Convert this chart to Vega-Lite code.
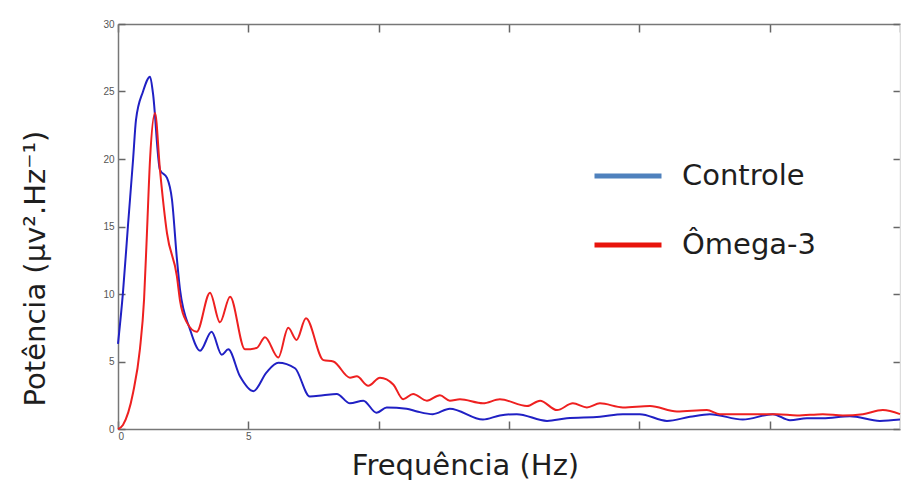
{
  "$schema": "https://vega.github.io/schema/vega-lite/v6.json",
  "width": 782,
  "height": 405,
  "autosize": {"type": "none"},
  "padding": {"left": 118, "top": 24, "right": 1, "bottom": 51},
  "background": "white",
  "config": {
    "view": {"stroke": null},
    "axis": {
      "domainColor": "#777777",
      "domainWidth": 1.5,
      "tickColor": "#666666",
      "tickWidth": 1.5,
      "grid": false,
      "labelFont": "Liberation Sans Narrow, Liberation Sans",
      "labelFontSize": 10,
      "labelColor": "#555555",
      "titleFont": "DejaVu Sans",
      "titleFontSize": 29,
      "titleFontWeight": "normal",
      "titleColor": "#1e1e1e"
    }
  },
  "data": {
    "values": [
      {"f": 0, "p": 6.3, "s": "Controle"},
      {"f": 0.19, "p": 10.1, "s": "Controle"},
      {"f": 0.38, "p": 15.0, "s": "Controle"},
      {"f": 0.58, "p": 20.0, "s": "Controle"},
      {"f": 0.69, "p": 22.9, "s": "Controle"},
      {"f": 0.96, "p": 25.0, "s": "Controle"},
      {"f": 1.23, "p": 26.1, "s": "Controle"},
      {"f": 1.34, "p": 24.9, "s": "Controle"},
      {"f": 1.61, "p": 19.2, "s": "Controle"},
      {"f": 1.88, "p": 18.6, "s": "Controle"},
      {"f": 2.07, "p": 17.0, "s": "Controle"},
      {"f": 2.26, "p": 12.6, "s": "Controle"},
      {"f": 2.38, "p": 10.3, "s": "Controle"},
      {"f": 2.76, "p": 7.4, "s": "Controle"},
      {"f": 3.15, "p": 5.8, "s": "Controle"},
      {"f": 3.59, "p": 7.2, "s": "Controle"},
      {"f": 3.98, "p": 5.5, "s": "Controle"},
      {"f": 4.23, "p": 5.9, "s": "Controle"},
      {"f": 4.68, "p": 3.9, "s": "Controle"},
      {"f": 5.19, "p": 2.8, "s": "Controle"},
      {"f": 5.7, "p": 4.2, "s": "Controle"},
      {"f": 6.15, "p": 4.9, "s": "Controle"},
      {"f": 6.79, "p": 4.5, "s": "Controle"},
      {"f": 7.36, "p": 2.4, "s": "Controle"},
      {"f": 7.87, "p": 2.5, "s": "Controle"},
      {"f": 8.39, "p": 2.6, "s": "Controle"},
      {"f": 8.9, "p": 1.9, "s": "Controle"},
      {"f": 9.41, "p": 2.1, "s": "Controle"},
      {"f": 9.92, "p": 1.2, "s": "Controle"},
      {"f": 10.31, "p": 1.6, "s": "Controle"},
      {"f": 11.07, "p": 1.5, "s": "Controle"},
      {"f": 11.47, "p": 1.3, "s": "Controle"},
      {"f": 12.08, "p": 1.1, "s": "Controle"},
      {"f": 12.73, "p": 1.5, "s": "Controle"},
      {"f": 14.0, "p": 0.7, "s": "Controle"},
      {"f": 14.65, "p": 1.0, "s": "Controle"},
      {"f": 15.3, "p": 1.1, "s": "Controle"},
      {"f": 16.46, "p": 0.6, "s": "Controle"},
      {"f": 17.22, "p": 0.8, "s": "Controle"},
      {"f": 18.49, "p": 0.9, "s": "Controle"},
      {"f": 19.37, "p": 1.1, "s": "Controle"},
      {"f": 20.02, "p": 1.1, "s": "Controle"},
      {"f": 21.06, "p": 0.6, "s": "Controle"},
      {"f": 21.94, "p": 0.9, "s": "Controle"},
      {"f": 22.71, "p": 1.1, "s": "Controle"},
      {"f": 23.97, "p": 0.7, "s": "Controle"},
      {"f": 25.12, "p": 1.1, "s": "Controle"},
      {"f": 25.78, "p": 0.65, "s": "Controle"},
      {"f": 26.43, "p": 0.8, "s": "Controle"},
      {"f": 27.04, "p": 0.8, "s": "Controle"},
      {"f": 28.08, "p": 0.95, "s": "Controle"},
      {"f": 29.23, "p": 0.6, "s": "Controle"},
      {"f": 30.0, "p": 0.7, "s": "Controle"},
      {"f": 0, "p": 0, "s": "Ômega-3"},
      {"f": 0.19, "p": 0.3, "s": "Ômega-3"},
      {"f": 0.58, "p": 2.7, "s": "Ômega-3"},
      {"f": 0.84, "p": 5.9, "s": "Ômega-3"},
      {"f": 1.0, "p": 9.6, "s": "Ômega-3"},
      {"f": 1.11, "p": 14.5, "s": "Ômega-3"},
      {"f": 1.23, "p": 20.0, "s": "Ômega-3"},
      {"f": 1.42, "p": 23.4, "s": "Ômega-3"},
      {"f": 1.61, "p": 19.2, "s": "Ômega-3"},
      {"f": 1.88, "p": 14.5, "s": "Ômega-3"},
      {"f": 2.26, "p": 11.3, "s": "Ômega-3"},
      {"f": 2.38, "p": 9.5, "s": "Ômega-3"},
      {"f": 2.64, "p": 7.9, "s": "Ômega-3"},
      {"f": 3.02, "p": 7.2, "s": "Ômega-3"},
      {"f": 3.53, "p": 10.1, "s": "Ômega-3"},
      {"f": 3.91, "p": 7.9, "s": "Ômega-3"},
      {"f": 4.3, "p": 9.8, "s": "Ômega-3"},
      {"f": 4.87, "p": 5.9, "s": "Ômega-3"},
      {"f": 5.32, "p": 6.0, "s": "Ômega-3"},
      {"f": 5.64, "p": 6.8, "s": "Ômega-3"},
      {"f": 6.15, "p": 5.3, "s": "Ômega-3"},
      {"f": 6.53, "p": 7.5, "s": "Ômega-3"},
      {"f": 6.85, "p": 6.6, "s": "Ômega-3"},
      {"f": 7.21, "p": 8.2, "s": "Ômega-3"},
      {"f": 7.88, "p": 5.1, "s": "Ômega-3"},
      {"f": 8.26, "p": 5.0, "s": "Ômega-3"},
      {"f": 8.9, "p": 3.8, "s": "Ômega-3"},
      {"f": 9.16, "p": 3.9, "s": "Ômega-3"},
      {"f": 9.6, "p": 3.2, "s": "Ômega-3"},
      {"f": 10.05, "p": 3.8, "s": "Ômega-3"},
      {"f": 10.56, "p": 3.3, "s": "Ômega-3"},
      {"f": 10.94, "p": 2.2, "s": "Ômega-3"},
      {"f": 11.32, "p": 2.6, "s": "Ômega-3"},
      {"f": 11.85, "p": 2.1, "s": "Ômega-3"},
      {"f": 12.35, "p": 2.5, "s": "Ômega-3"},
      {"f": 12.73, "p": 2.1, "s": "Ômega-3"},
      {"f": 13.12, "p": 2.2, "s": "Ômega-3"},
      {"f": 14.0, "p": 1.9, "s": "Ômega-3"},
      {"f": 14.65, "p": 2.2, "s": "Ômega-3"},
      {"f": 15.69, "p": 1.7, "s": "Ômega-3"},
      {"f": 16.19, "p": 2.1, "s": "Ômega-3"},
      {"f": 16.84, "p": 1.4, "s": "Ômega-3"},
      {"f": 17.45, "p": 1.9, "s": "Ômega-3"},
      {"f": 17.99, "p": 1.6, "s": "Ômega-3"},
      {"f": 18.49, "p": 1.9, "s": "Ômega-3"},
      {"f": 19.37, "p": 1.6, "s": "Ômega-3"},
      {"f": 20.41, "p": 1.7, "s": "Ômega-3"},
      {"f": 21.44, "p": 1.3, "s": "Ômega-3"},
      {"f": 22.59, "p": 1.4, "s": "Ômega-3"},
      {"f": 23.09, "p": 1.1, "s": "Ômega-3"},
      {"f": 24.24, "p": 1.1, "s": "Ômega-3"},
      {"f": 25.28, "p": 1.1, "s": "Ômega-3"},
      {"f": 26.05, "p": 1.0, "s": "Ômega-3"},
      {"f": 27.04, "p": 1.1, "s": "Ômega-3"},
      {"f": 27.81, "p": 1.0, "s": "Ômega-3"},
      {"f": 28.58, "p": 1.1, "s": "Ômega-3"},
      {"f": 29.34, "p": 1.4, "s": "Ômega-3"},
      {"f": 30.0, "p": 1.1, "s": "Ômega-3"}
    ]
  },
  "layer": [
    {
      "mark": {"type": "line", "strokeWidth": 2, "interpolate": "monotone"},
      "encoding": {
        "x": {
          "field": "f", "type": "quantitative",
          "scale": {"domain": [0, 30], "nice": false},
          "axis": {
            "orient": "bottom",
            "values": [0, 5, 10, 15, 20, 25, 30],
            "labelExpr": "datum.value <= 5 ? datum.label : ''",
            "tickSize": -8,
            "labelPadding": 10,
            "title": "Frequência (Hz)",
            "titleX": 347,
            "titleY": 36,
            "titleAnchor": null,
            "titleAlign": "center",
            "titleBaseline": "middle"
          }
        },
        "y": {
          "field": "p", "type": "quantitative",
          "scale": {"domain": [0, 30], "nice": false},
          "axis": {
            "orient": "left",
            "values": [0, 5, 10, 15, 20, 25, 30],
            "tickSize": -7,
            "labelPadding": 11,
            "title": "Potência (μv².Hz⁻¹)",
            "titleAngle": -90,
            "titleX": -83,
            "titleY": 244,
            "titleAnchor": null,
            "titleAlign": "center",
            "titleBaseline": "middle"
          }
        },
        "color": {
          "field": "s", "type": "nominal",
          "scale": {"domain": ["Controle", "Ômega-3"], "range": ["#2020c4", "#ee2020"]},
          "legend": null
        }
      }
    },
    {
      "mark": {"type": "line", "opacity": 0},
      "encoding": {
        "x": {
          "field": "f", "type": "quantitative",
          "axis": {
            "orient": "top",
            "values": [0, 5, 10, 15, 20, 25, 30],
            "labels": false,
            "tickSize": -8,
            "title": null
          }
        },
        "y": {
          "field": "p", "type": "quantitative",
          "axis": {
            "orient": "right",
            "values": [0, 5, 10, 15, 20, 25, 30],
            "labels": false,
            "tickSize": -7,
            "domainColor": "#dddddd",
            "title": null
          }
        },
        "detail": {"field": "s"}
      }
    },
    {
      "transform": [{"filter": "datum.p < 0"}],
      "mark": {"type": "line"},
      "encoding": {
        "x": {"field": "f", "type": "quantitative", "axis": null},
        "y": {"field": "p", "type": "quantitative", "axis": null},
        "color": {
          "field": "s", "type": "nominal",
          "scale": {"domain": ["Controle", "Ômega-3"], "range": ["#4f81bd", "#e8140c"]},
          "legend": {
            "title": null,
            "orient": "none",
            "legendX": 474,
            "legendY": 116,
            "symbolType": "stroke",
            "symbolSize": 4489,
            "symbolStrokeWidth": 5,
            "labelFont": "DejaVu Sans",
            "labelFontSize": 29,
            "labelColor": "#1e1e1e",
            "labelOffset": 18,
            "rowPadding": 18
          }
        }
      }
    }
  ],
  "resolve": {"axis": {"x": "independent", "y": "independent"}, "scale": {"color": "independent"}}
}
